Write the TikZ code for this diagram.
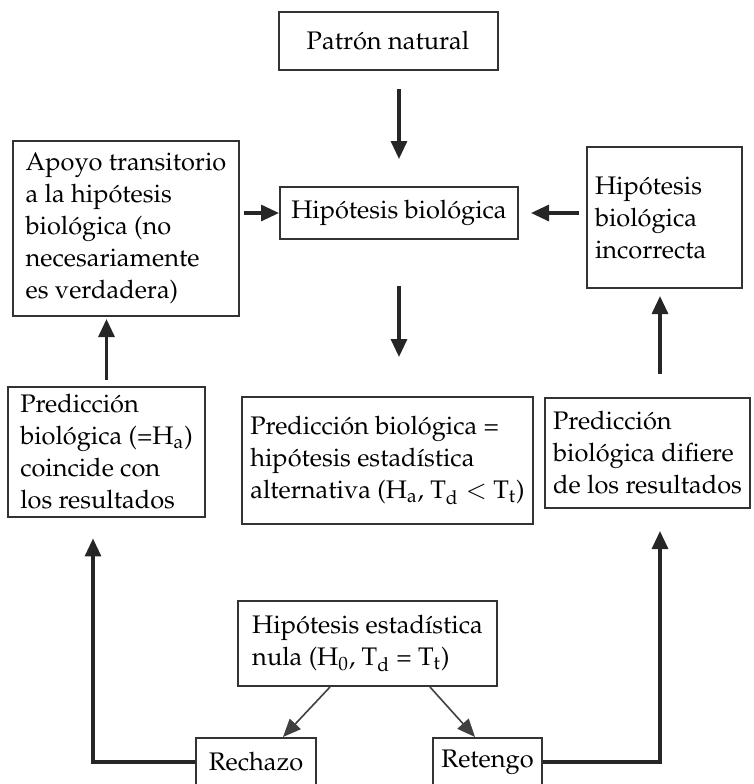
\documentclass[tikz,border=0pt]{standalone}
\usepackage[T1]{fontenc}
\usepackage{mathpazo}
\usetikzlibrary{arrows.meta}
\tikzset{
  caja/.style={draw=black!80,line width=1pt,inner sep=4pt,font=\fontsize{12.7}{16}\selectfont},
  texto/.style={align=left},
  flecha/.style={draw=black!85,line width=1.6pt,-{Triangle[length=9pt,width=8pt]}},
  flechita/.style={draw=black!75,line width=0.8pt,-{Triangle[length=9pt,width=7.5pt]}}
}
\begin{document}
\begin{tikzpicture}[x=0.5pt,y=-0.5pt]
  \useasboundingbox (0,0) rectangle (754,784);
  %% upper row
  \node[caja,minimum width=109.5pt,minimum height=29pt] (natural) at (388,41) {Patr\'on natural};
  \node[caja,minimum width=119pt,minimum height=26pt] (hipbio) at (399,213) {Hip\'otesis biol\'ogica};
  \node[caja,texto,minimum width=113pt,minimum height=87.5pt] (apoyo) at (126,228.5)
    {Apoyo transitorio\\a la hip\'otesis\\biol\'ogica (no\\necesariamente\\es verdadera)};
  \node[caja,texto,minimum width=77.5pt,minimum height=70.5pt,text width=69.5pt] (incorr) at (664.5,217.5)
    {Hip\'otesis\\biol\'ogica\\incorrecta};
  %% middle row
  \node[caja,texto,minimum width=142.5pt,minimum height=63.5pt] (predalt) at (387.5,460.5)
    {Predicci\'on biol\'ogica =\\hip\'otesis estad\'{\i}stica\\alternativa (H$_\mathrm{a}$, T$_\mathrm{d}<$ T$_\mathrm{t}$)};
  \node[caja,texto,minimum width=98.5pt,minimum height=53pt] (predsi) at (106.5,452)
    {Predicci\'on\\biol\'ogica (=H$_\mathrm{a}$)\\coincide con\\los resultados};
  \node[caja,texto,minimum width=102.5pt,minimum height=55pt] (predno) at (647.5,453)
    {Predicci\'on\\biol\'ogica difiere\\de los resultados};
  %% lower row
  \node[caja,texto,minimum width=129.5pt,minimum height=42.5pt] (nula) at (367.5,643.5)
    {Hip\'otesis estad\'{\i}stica\\nula (H$_0$, T$_\mathrm{d}$ = T$_\mathrm{t}$)};
  \node[caja,minimum width=60pt,minimum height=24pt] (rechazo) at (256,762) {Rechazo};
  \node[caja,minimum width=53.5pt,minimum height=24pt] (retengo) at (487.5,762) {Retengo};
  %% arrows
  \draw[flecha,shorten <=9pt,shorten >=13.5pt] (hipbio.north |- natural.south) -- (hipbio.north);
  \draw[flecha,shorten <=2pt] (apoyo.east |- hipbio.west) -- (hipbio.west);
  \draw[flecha,shorten <=3.5pt,shorten >=6pt] (incorr.west |- hipbio.east) -- (hipbio.east);
  \draw[flecha,shorten <=23pt,shorten >=19.5pt] (hipbio.south) -- (hipbio.south |- predalt.north);
  \draw[flecha,shorten <=3pt,shorten >=1pt] (predsi.north) -- (predsi.north |- apoyo.south);
  \draw[flecha,shorten <=11.5pt,shorten >=3.5pt] ([xshift=6.25pt]predno.north) -- ([xshift=6.25pt]predno.north |- incorr.south);
  \draw[flechita] ([xshift=-18.75pt]nula.south) -- ([xshift=13.5pt]rechazo.north);
  \draw[flechita] ([xshift=31.25pt]nula.south) -- ([xshift=-6.25pt]retengo.north);
  \draw[flecha,shorten >=10pt] (rechazo.west) -| ([xshift=-6.75pt]predsi.south);
  \draw[flecha,shorten >=11pt] (retengo.east) -| ([xshift=6.25pt]predno.south);
\end{tikzpicture}
\end{document}
